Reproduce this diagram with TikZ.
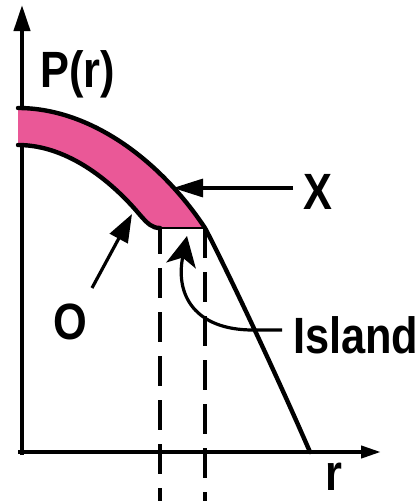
\documentclass[tikz,border=0pt]{standalone}
\usepackage{fontspec}
\usepackage{tikz}
\usetikzlibrary{arrows.meta}
\newfontfamily\lblfont[FakeStretch=0.85]{Liberation Sans Bold}
\definecolor{FigInk}{HTML}{000000}
\definecolor{BandFill}{HTML}{EA5897}

\begin{document}
\begin{tikzpicture}[
  x=1pt, y=-1pt,
  font=\lblfont\fontsize{51}{56}\selectfont,
  lbl/.style={inner sep=0pt, text=FigInk},
  axis/.style={FigInk, line width=4pt},
  curve/.style={FigInk, line width=4.4pt, line join=round, line cap=round},
  guide/.style={FigInk, line width=4pt, dash pattern=on 30pt off 14pt},
  pointer/.style={FigInk, line width=3.2pt},
]
  \useasboundingbox (0,0) rectangle (419,501);

  % axes
  \draw[axis, -{Triangle[length=26pt, width=16pt]}] (22,455) -- (22,5);
  \draw[axis, -{Triangle[length=20pt, width=12pt]}] (18,452) -- (381,452);

  % guide lines below the island
  \draw[guide, line width=3.4pt, dash phase=4pt] (160,228) -- (160,501);
  \draw[guide] (205,228) -- (205,501);

  % band between the two curves
  \fill[BandFill]
    (18,108) .. controls (90,108) and (160,160) .. (205,228)
    -- (160,228) .. controls (152,228) and (148,224) .. (140,215)
    .. controls (115,185) and (70,145) .. (18,145) -- cycle;

  \draw[curve] (18,108) .. controls (90,108) and (160,160) .. (205,228)
    .. controls (220,256) and (270,360) .. (310,452);
  \draw[curve] (18,145) .. controls (70,145) and (115,185) .. (140,215)
    .. controls (148,224) and (152,228) .. (160,228);
  \draw[FigInk, line width=2pt] (160,228) -- (205,228);

  % labels
  \node[lbl, anchor=base west] (plab) at (40,87) {P(r)};
  \node[lbl, anchor=base west, inner xsep=10pt] (xlab) at (293,209) {X};
  \node[lbl, anchor=base west] (olab) at (53,339) {O};
  \node[lbl, anchor=base west, inner xsep=10pt] (ilab) at (283,353) {Island};
  \node[lbl, anchor=base west] (rlab) at (325,490) {r};

  \coordinate (xtip) at (173,188);
  \coordinate (otail) at (92,288);
  \coordinate (otip) at (132,214);
  \coordinate (itip) at (187,236);

  \draw[pointer, -{Triangle[length=30pt, width=18pt]}]
    (xlab.west |- xtip) -- (xtip);
  \draw[pointer, -{Triangle[length=28pt, width=20pt]}]
    (otail) -- (otip);
  \draw[pointer, -{Stealth[length=30pt, width=30pt, inset=8pt]}]
    (282,330) -- (253,330) .. controls (195,330) and (175,295) .. (itip);
\end{tikzpicture}
\end{document}
